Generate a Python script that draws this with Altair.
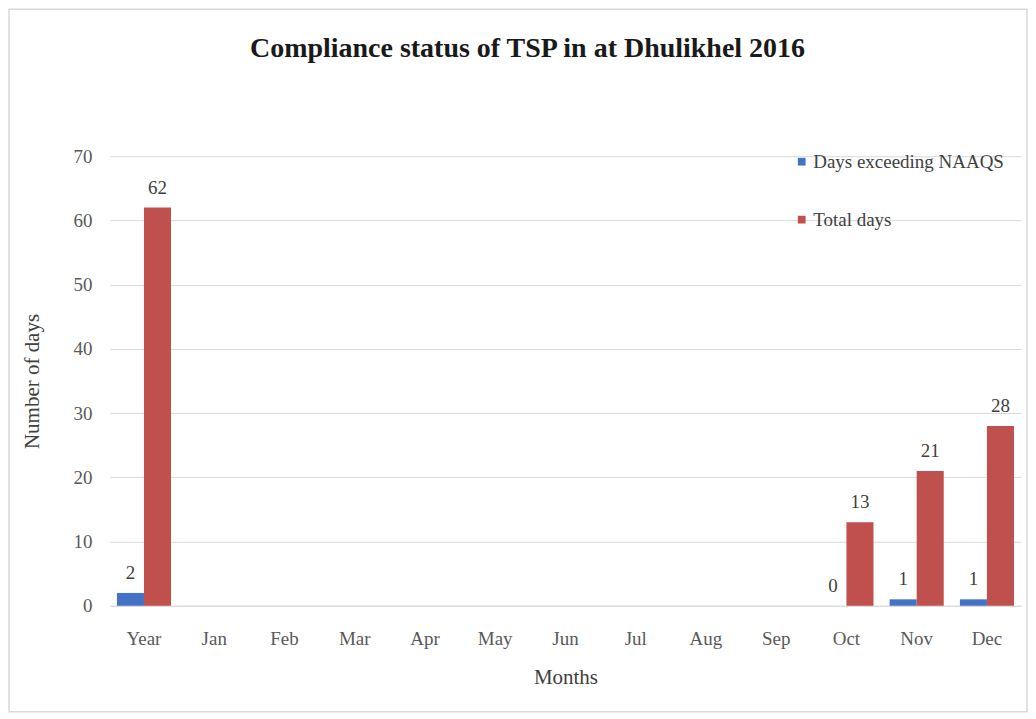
import altair as alt
import pandas as pd

months = ["Year", "Jan", "Feb", "Mar", "Apr", "May", "Jun", "Jul", "Aug", "Sep", "Oct", "Nov", "Dec"]
exceeding = [2, None, None, None, None, None, None, None, None, None, 0, 1, 1]
total = [62, None, None, None, None, None, None, None, None, None, 13, 21, 28]
series_names = ["Days exceeding NAAQS", "Total days"]
colors = ["#4472C4", "#C0504D"]
title_text = "Compliance status of TSP in at Dhulikhel 2016"

rows = []
for m, e, t in zip(months, exceeding, total):
    rows.append({"Month": m, "Series": series_names[0], "Value": e})
    rows.append({"Month": m, "Series": series_names[1], "Value": t})
df = pd.DataFrame(rows)

FONT = "Liberation Serif"
W, H = 912, 450

x = alt.X("Month:N", sort=months, title="Months",
          scale=alt.Scale(domain=months, paddingInner=0.23, paddingOuter=0.1),
          axis=alt.Axis(labelAngle=0, labelFontSize=19, labelColor="#595959", labelFont=FONT,
                        titleFontSize=21, titleColor="#404040", titleFont=FONT, titleFontWeight="normal",
                        ticks=False, domainColor="#D9D9D9", labelPadding=24, titlePadding=18))
xo = alt.XOffset("Series:N", sort=series_names, scale=alt.Scale(paddingInner=0, paddingOuter=0))
y = alt.Y("Value:Q", title="Number of days",
          scale=alt.Scale(domain=[0, 70]),
          axis=alt.Axis(values=list(range(0, 71, 10)), labelFontSize=19, labelColor="#595959", labelFont=FONT,
                        titleFontSize=21, titleColor="#404040", titleFont=FONT, titleFontWeight="normal",
                        ticks=False, domain=False, gridColor="#D9D9D9", labelPadding=18, titlePadding=30))
color = alt.Color("Series:N", sort=series_names,
                  scale=alt.Scale(domain=series_names, range=colors),
                  legend=alt.Legend(title=None, orient="none", legendX=683, legendY=-4,
                                    symbolType="square", symbolSize=60, labelFontSize=19,
                                    labelFont=FONT, labelColor="#404040", rowPadding=38,
                                    symbolStrokeWidth=0, labelOffset=2, labelLimit=0))

base = alt.Chart(df).transform_filter("isValid(datum.Value)")
bars = base.mark_bar().encode(x=x, xOffset=xo, y=y, color=color)
labels = base.mark_text(dy=-20, fontSize=19, font=FONT, color="#404040").encode(
    x=x, xOffset=xo, y=y, text=alt.Text("Value:Q"))

deco = alt.Chart(pd.DataFrame({"b": [0]}))
border = deco.mark_rect(fill=None, stroke="#D9D9D9", strokeWidth=1.5).encode(
    x=alt.value(-101), x2=alt.value(918), y=alt.value(-147), y2=alt.value(556))
title = deco.mark_text(fontSize=28, font=FONT, fontWeight="bold", color="#1a1a1a",
                       baseline="middle", align="center").encode(
    x=alt.value(W / 2 - 38), y=alt.value(-107), text=alt.value(title_text))

chart = (border + title + bars + labels).properties(
    width=W, height=H,
    background="white",
    padding=0,
).configure_view(strokeWidth=0)

chart.save("out.html", embed_options={"renderer": "svg", "actions": False})
